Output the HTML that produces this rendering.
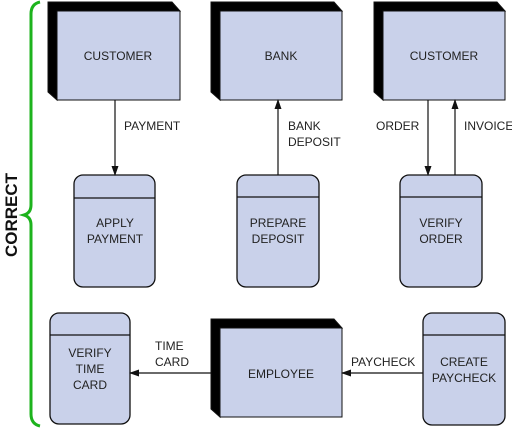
<!DOCTYPE html>
<html><head><style>body{margin:0;background:#fff}svg{display:block}</style></head><body>
<svg width="512" height="428" viewBox="0 0 512 428" xmlns="http://www.w3.org/2000/svg" font-family="Liberation Sans, sans-serif" font-size="12" fill="#222">
<defs><marker id="a" markerWidth="10" markerHeight="10" refX="9" refY="5" orient="auto" markerUnits="userSpaceOnUse"><path d="M0,1.5 L10,5 L0,8.5 Z" fill="#111"/></marker></defs>
<path d="M40,2 Q31,4 31,14 L31,205 Q31,213 24,215 Q31,217 31,225 L31,414 Q31,424 40,426" fill="none" stroke="#1db31d" stroke-width="3"/>
<text transform="translate(17,215) rotate(-90)" text-anchor="middle" font-weight="bold" font-size="17" fill="#111">CORRECT</text>
<g stroke="#111" stroke-width="1">
<path d="M48,2 L172,2 L180,11 L57,11 L57,100 L48,92 Z" fill="#000"/>
<rect x="57" y="11" width="123" height="89" fill="#c9d1ea"/>
<path d="M211,2 L334,2 L342,11 L220,11 L220,100 L211,92 Z" fill="#000"/>
<rect x="220" y="11" width="122" height="89" fill="#c9d1ea"/>
<path d="M374,2 L497,2 L505,11 L383,11 L383,100 L374,92 Z" fill="#000"/>
<rect x="383" y="11" width="122" height="89" fill="#c9d1ea"/>
<path d="M211,319 L334,319 L342,328 L220,328 L220,417 L211,409 Z" fill="#000"/>
<rect x="220" y="328" width="122" height="89" fill="#c9d1ea"/>
</g>
<g stroke="#111" stroke-width="1.3" fill="#c9d1ea">
<rect x="74" y="175" width="81" height="112" rx="9"/><line x1="74" y1="198" x2="155" y2="198"/>
<rect x="237" y="175" width="82" height="112" rx="9"/><line x1="237" y1="197" x2="319" y2="197"/>
<rect x="400" y="175" width="82" height="112" rx="9"/><line x1="400" y1="197" x2="482" y2="197"/>
<rect x="50" y="313" width="80" height="111" rx="9"/><line x1="50" y1="335" x2="130" y2="335"/>
<rect x="423" y="313" width="82" height="112" rx="9"/><line x1="423" y1="335" x2="505" y2="335"/>
</g>
<g stroke="#111" stroke-width="1.2" marker-end="url(#a)">
<line x1="115" y1="100" x2="115" y2="175"/>
<line x1="278" y1="175" x2="278" y2="100"/>
<line x1="428" y1="100" x2="428" y2="175"/>
<line x1="455" y1="175" x2="455" y2="100"/>
<line x1="423" y1="373" x2="342" y2="373"/>
<line x1="211" y1="373" x2="130" y2="373"/>
</g>
<g text-anchor="middle">
<text x="118" y="60">CUSTOMER</text>
<text x="281" y="60">BANK</text>
<text x="444" y="60">CUSTOMER</text>
<text x="281" y="378">EMPLOYEE</text>
<text x="115" y="227">APPLY</text><text x="115" y="243">PAYMENT</text>
<text x="278" y="227">PREPARE</text><text x="278" y="243">DEPOSIT</text>
<text x="441" y="227">VERIFY</text><text x="441" y="243">ORDER</text>
<text x="90" y="357">VERIFY</text><text x="90" y="373">TIME</text><text x="90" y="389">CARD</text>
<text x="464" y="366">CREATE</text><text x="464" y="382">PAYCHECK</text>
</g>
<text x="124" y="130">PAYMENT</text>
<text x="288" y="130">BANK</text><text x="288" y="146">DEPOSIT</text>
<text x="376" y="130">ORDER</text>
<text x="464" y="130">INVOICE</text>
<text x="351" y="366">PAYCHECK</text>
<text x="155" y="350">TIME</text><text x="155" y="366">CARD</text>
</svg>
</body></html>
